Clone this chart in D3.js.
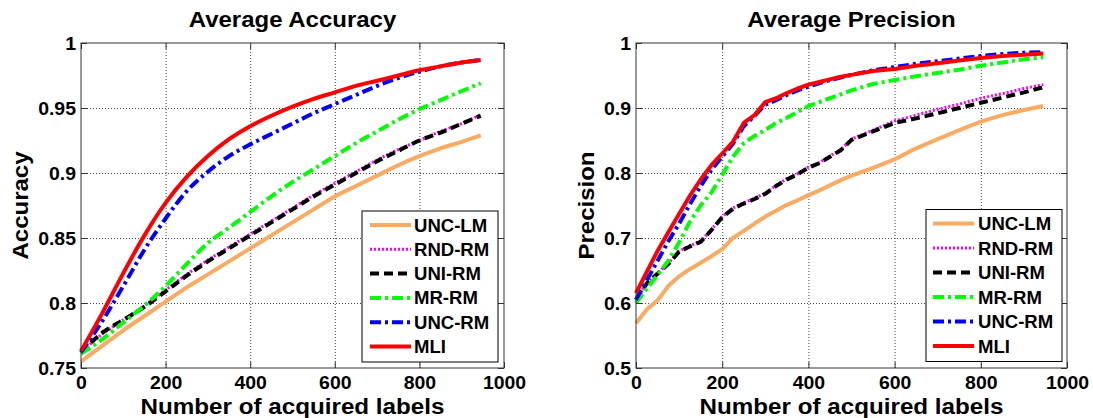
<!DOCTYPE html>
<html>
<head>
<meta charset="utf-8">
<script src="https://cdn.jsdelivr.net/npm/d3@7"></script>
<style>
  html, body { margin: 0; padding: 0; background: #fff; }
  svg { display: block; }
  text { font-family: "Liberation Sans", Arial, sans-serif; font-weight: bold; fill: #000; }
</style>
</head>
<body>
<svg id="chart" width="1093" height="418"></svg>
<script>
// ---------------- DATA ----------------
const seriesNames = ["UNC-LM", "RND-RM", "UNI-RM", "MR-RM", "UNC-RM", "MLI"];
const xTicks = [0, 200, 400, 600, 800, 1000];
const accTicks = [0.75, 0.8, 0.85, 0.9, 0.95, 1];
const precTicks = [0.5, 0.6, 0.7, 0.8, 0.9, 1];

// Average Accuracy (left)
const accX      = [0, 50, 100, 150, 200, 250, 300, 350, 400, 450, 500, 550, 600, 650, 700, 750, 800, 850, 900, 945];
const accUNCLM  = [0.755, 0.767, 0.779, 0.790, 0.801, 0.812, 0.822, 0.832, 0.842, 0.852, 0.862, 0.872, 0.882, 0.890, 0.898, 0.906, 0.913, 0.919, 0.924, 0.929];
const accRNDRM  = [0.762, 0.776, 0.787, 0.798, 0.810, 0.822, 0.833, 0.843, 0.853, 0.863, 0.873, 0.883, 0.892, 0.901, 0.910, 0.918, 0.925, 0.932, 0.938, 0.945];
const accUNIRM  = [0.762, 0.777, 0.787, 0.797, 0.809, 0.821, 0.832, 0.842, 0.852, 0.862, 0.872, 0.882, 0.891, 0.900, 0.909, 0.917, 0.925, 0.931, 0.938, 0.944];
const accMRRM   = [0.761, 0.772, 0.785, 0.798, 0.813, 0.830, 0.846, 0.858, 0.870, 0.882, 0.893, 0.903, 0.913, 0.923, 0.932, 0.941, 0.949, 0.956, 0.963, 0.969];
const accUNCRM  = [0.762, 0.786, 0.813, 0.841, 0.865, 0.886, 0.901, 0.913, 0.922, 0.930, 0.938, 0.946, 0.953, 0.960, 0.967, 0.973, 0.978, 0.982, 0.985, 0.987];
const accMLI    = [0.763, 0.792, 0.823, 0.852, 0.877, 0.897, 0.913, 0.926, 0.936, 0.944, 0.951, 0.957, 0.962, 0.967, 0.971, 0.975, 0.979, 0.982, 0.985, 0.987];

// Average Precision (right)
const precX     = [0, 25, 50, 75, 100, 125, 150, 175, 200, 225, 250, 275, 300, 325, 350, 375, 400, 425, 450, 475, 500, 550, 600, 650, 700, 750, 800, 850, 900, 945];
const precUNCLM = [0.569, 0.590, 0.604, 0.626, 0.641, 0.652, 0.662, 0.672, 0.683, 0.700, 0.711, 0.722, 0.733, 0.742, 0.751, 0.758, 0.766, 0.773, 0.781, 0.789, 0.796, 0.808, 0.821, 0.838, 0.852, 0.866, 0.879, 0.889, 0.897, 0.903];
const precRNDRM = [0.605, 0.631, 0.646, 0.661, 0.680, 0.688, 0.695, 0.713, 0.733, 0.746, 0.754, 0.761, 0.769, 0.781, 0.791, 0.799, 0.809, 0.816, 0.826, 0.836, 0.852, 0.866, 0.880, 0.889, 0.898, 0.906, 0.915, 0.922, 0.930, 0.936];
const precUNIRM = [0.605, 0.630, 0.645, 0.660, 0.679, 0.687, 0.694, 0.712, 0.732, 0.745, 0.753, 0.760, 0.768, 0.780, 0.790, 0.798, 0.808, 0.815, 0.825, 0.835, 0.851, 0.864, 0.877, 0.884, 0.892, 0.900, 0.908, 0.916, 0.924, 0.932];
const precMRRM  = [0.600, 0.622, 0.643, 0.665, 0.693, 0.725, 0.750, 0.770, 0.797, 0.825, 0.846, 0.857, 0.866, 0.877, 0.885, 0.894, 0.903, 0.909, 0.915, 0.921, 0.927, 0.937, 0.943, 0.949, 0.954, 0.959, 0.965, 0.970, 0.975, 0.978];
const precUNCRM = [0.605, 0.635, 0.665, 0.695, 0.722, 0.752, 0.780, 0.805, 0.825, 0.845, 0.872, 0.888, 0.905, 0.912, 0.920, 0.927, 0.933, 0.938, 0.943, 0.947, 0.951, 0.958, 0.963, 0.968, 0.972, 0.976, 0.980, 0.983, 0.985, 0.986];
const precMLI   = [0.615, 0.648, 0.680, 0.709, 0.737, 0.765, 0.790, 0.812, 0.830, 0.848, 0.877, 0.889, 0.909, 0.915, 0.923, 0.930, 0.936, 0.940, 0.944, 0.948, 0.951, 0.957, 0.960, 0.965, 0.969, 0.973, 0.977, 0.980, 0.982, 0.984];

// ---------------- STYLES ----------------
const styles = {
  "UNC-LM": { color: "#FBAA62", width: 4,   dash: null },
  "RND-RM": { color: "#FF00FF", width: 3,   dash: "2,2" },
  "UNI-RM": { color: "#000000", width: 4,   dash: "9,5" },
  "MR-RM":  { color: "#00FF00", width: 4,   dash: "11,4,3,4" },
  "UNC-RM": { color: "#0000FF", width: 4,   dash: "11,4,3,4" },
  "MLI":    { color: "#FF0000", width: 4,   dash: null }
};

const charts = [
  {
    title: "Average Accuracy", ylabel: "Accuracy",
    xs: accX, ys: [accUNCLM, accRNDRM, accUNIRM, accMRRM, accUNCRM, accMLI],
    yDomain: [0.75, 1], yTicks: accTicks, curve: d3.curveMonotoneX,
    x0: 81, x1: 504, y0: 43, y1: 368, ylabelX: 28,
    legend: { x: 362, y: 211, w: 136, h: 151, row0: 225, step: 24.3, lx0: 370, lx1: 411, tx: 414 }
  },
  {
    title: "Average Precision", ylabel: "Precision",
    xs: precX, ys: [precUNCLM, precRNDRM, precUNIRM, precMRRM, precUNCRM, precMLI],
    yDomain: [0.5, 1], yTicks: precTicks, curve: d3.curveLinear,
    x0: 636, x1: 1067, y0: 43, y1: 368, ylabelX: 594,
    legend: { x: 926, y: 209.5, w: 136, h: 152, row0: 223.5, step: 24.5, lx0: 933, lx1: 974, tx: 978 }
  }
];

const svg = d3.select("#chart");
svg.append("rect").attr("width", 1093).attr("height", 418).attr("fill", "#fff");

function stretch(sel, k) {
  sel.each(function () {
    const w = this.getComputedTextLength();
    this.setAttribute("textLength", w * k);
    this.setAttribute("lengthAdjust", "spacingAndGlyphs");
  });
}

const fmt = d => String(+d.toFixed(2));

charts.forEach(c => {
  const x = d3.scaleLinear().domain([0, 1000]).range([c.x0, c.x1]);
  const y = d3.scaleLinear().domain(c.yDomain).range([c.y1, c.y0]);
  const W = c.x1 - c.x0, H = c.y1 - c.y0;
  const g = svg.append("g");

  // grid
  const gx = g.append("g").attr("transform", `translate(0,${c.y1})`)
    .call(d3.axisBottom(x).tickValues(xTicks.slice(1, -1)).tickSize(-H).tickFormat(""));
  const gy = g.append("g").attr("transform", `translate(${c.x0},0)`)
    .call(d3.axisLeft(y).tickValues(c.yTicks.slice(1, -1)).tickSize(-W).tickFormat(""));
  [gx, gy].forEach(a => {
    a.select(".domain").remove();
    a.selectAll("line").attr("stroke", "#444").attr("stroke-width", 1).attr("stroke-dasharray", "1,2");
  });

  // series
  const line = d3.line().x(d => x(d[0])).y(d => y(d[1])).curve(c.curve);
  seriesNames.forEach((name, i) => {
    const st = styles[name];
    const pts = c.xs.map((xv, j) => [xv, c.ys[i][j]]);
    g.append("path").datum(pts)
      .attr("d", line)
      .attr("fill", "none")
      .attr("stroke", st.color)
      .attr("stroke-width", st.width)
      .attr("stroke-linejoin", "round")
      .attr("stroke-dasharray", st.dash);
  });

  // axes with inward ticks
  const ab = g.append("g").attr("transform", `translate(0,${c.y1})`)
    .call(d3.axisBottom(x).tickValues(xTicks).tickSize(-6).tickPadding(8).tickFormat(d => String(d)));
  const at = g.append("g").attr("transform", `translate(0,${c.y0})`)
    .call(d3.axisTop(x).tickValues(xTicks).tickSize(-6).tickFormat(""));
  const al = g.append("g").attr("transform", `translate(${c.x0},0)`)
    .call(d3.axisLeft(y).tickValues(c.yTicks).tickSize(-6).tickPadding(5).tickFormat(fmt));
  const ar = g.append("g").attr("transform", `translate(${c.x1},0)`)
    .call(d3.axisRight(y).tickValues(c.yTicks).tickSize(-6).tickFormat(""));
  [ab, at, al, ar].forEach(a => {
    a.select(".domain").remove();
    a.selectAll("line").attr("stroke", "#333").attr("stroke-width", 1);
    a.selectAll("text").attr("font-size", 18).attr("font-family", null).attr("fill", "#000");
  });
  al.selectAll("text").attr("x", -5).attr("dy", "0.36em");
  stretch(ab.selectAll("text"), 1.08);
  stretch(al.selectAll("text"), 1.08);

  // box
  g.append("rect").attr("x", c.x0).attr("y", c.y0).attr("width", W).attr("height", H)
    .attr("fill", "none").attr("stroke", "#333").attr("stroke-width", 1);

  // title
  const t = g.append("text").attr("x", (c.x0 + c.x1) / 2).attr("y", 27.3)
    .attr("text-anchor", "middle").attr("font-size", 22).text(c.title);
  stretch(t, 1.09);

  // x label
  const xl = g.append("text").attr("x", (c.x0 + c.x1) / 2).attr("y", 414)
    .attr("text-anchor", "middle").attr("font-size", 22).text("Number of acquired labels");
  stretch(xl, 1.10);

  // y label
  const yl = g.append("text")
    .attr("transform", `translate(${c.ylabelX},${(c.y0 + c.y1) / 2}) rotate(-90)`)
    .attr("text-anchor", "middle").attr("font-size", 22).text(c.ylabel);
  stretch(yl, 1.09);

  // legend
  const L = c.legend;
  const lg = g.append("g");
  lg.append("rect").attr("x", L.x).attr("y", L.y).attr("width", L.w).attr("height", L.h)
    .attr("fill", "#fff").attr("stroke", "#000").attr("stroke-width", 1);
  seriesNames.forEach((name, i) => {
    const st = styles[name];
    const yy = L.row0 + i * L.step;
    lg.append("line").attr("x1", L.lx0).attr("x2", L.lx1).attr("y1", yy).attr("y2", yy)
      .attr("stroke", st.color).attr("stroke-width", st.width).attr("stroke-dasharray", st.dash);
    const tx = lg.append("text").attr("x", L.tx).attr("y", yy + 6.5)
      .attr("font-size", 18).text(name);
    stretch(tx, 1.03);
  });
});
</script>
</body>
</html>
